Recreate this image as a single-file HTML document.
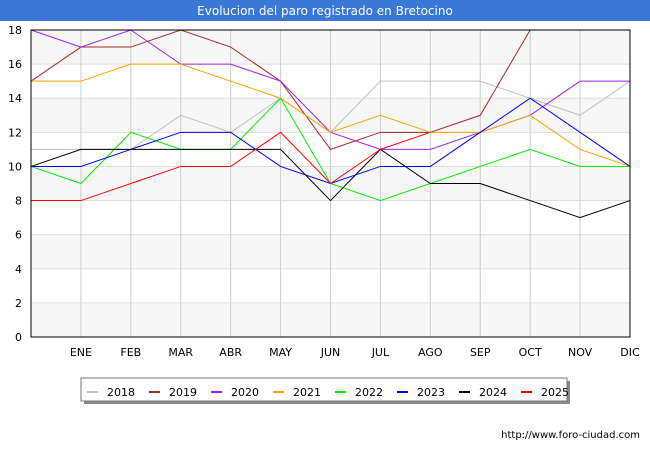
<!DOCTYPE html>
<html><head><meta charset="utf-8"><style>
body{margin:0;width:650px;height:450px;background:#fff;font-family:"DejaVu Sans","Liberation Sans",sans-serif;overflow:hidden}
</style></head><body>
<svg width="650" height="450" xmlns="http://www.w3.org/2000/svg" id="svg">
<rect x="0" y="0" width="650" height="21" fill="#3a78d8"/>
<text x="325" y="15" text-anchor="middle" fill="#fff" font-size="12" font-family="DejaVu Sans, sans-serif">Evolucion del paro registrado en Bretocino</text>
<g id="plot"></g>
<rect x="84" y="381" width="486" height="23" fill="#888"/>
<rect x="81" y="378" width="486" height="23" fill="#fff" stroke="#777"/>
<g id="legend"></g>
<text x="640" y="438" text-anchor="end" font-size="10" font-family="DejaVu Sans, sans-serif" fill="#000">http://www.foro-ciudad.com</text>
</svg>
<script>
const cats=["","ENE","FEB","MAR","ABR","MAY","JUN","JUL","AGO","SEP","OCT","NOV","DIC"];
const yTicks=[0,2,4,6,8,10,12,14,16,18];
const years=["2018","2019","2020","2021","2022","2023","2024","2025"];
const colors=["#c0c0c0","#a52a2a","#a020f0","#ffa500","#00ee00","#0000ff","#000000","#ff0000"];
const s2018=[11,11,11,13,12,14,12,15,15,15,14,13,15];
const s2019=[15,17,17,18,17,15,11,12,12,13,18,null,null];
const s2020=[18,17,18,16,16,15,12,11,11,12,13,15,15];
const s2021=[15,15,16,16,15,14,12,13,12,12,13,11,10];
const s2022=[10,9,12,11,11,14,9,8,9,10,11,10,10];
const s2023=[10,10,11,12,12,10,9,10,10,12,14,12,10];
const s2024=[10,11,11,11,11,11,8,11,9,9,8,7,8];
const s2025=[8,8,9,10,10,12,9,11,12,null,null,null,null];
const series=[s2018,s2019,s2020,s2021,s2022,s2023,s2024,s2025];
const NS="http://www.w3.org/2000/svg";
const L=31,R=630,T=30,B=337;
const x=i=>L+(R-L)*i/(cats.length-1);
const y=v=>B-(B-T)*v/18;
const plot=document.getElementById('plot');
function mk(tag,attrs,parent){const e=document.createElementNS(NS,tag);for(const k in attrs)e.setAttribute(k,attrs[k]);parent.appendChild(e);return e;}
for(let i=0;i<yTicks.length-1;i++){
  if(i%2==0){const r=mk('rect',{x:L,y:y(yTicks[i+1]),width:R-L,height:y(yTicks[i])-y(yTicks[i+1]),fill:'#f7f7f7'},plot);
  
  }
}
yTicks.forEach(v=>{
  const g=mk('line',{x1:L,x2:R,y1:y(v),y2:y(v),stroke:'#ddd'},plot);
  
  
  const t=mk('text',{x:L-9,y:y(v)+4,'text-anchor':'end','font-size':11},plot);t.textContent=v;
  
  
});
cats.forEach((c,i)=>{
  if(i>0){const g=mk('line',{x1:x(i),x2:x(i),y1:T,y2:B,stroke:'#ccc'},plot);
  
  }
  const t=mk('text',{x:x(i),y:356,'text-anchor':'middle','font-size':11},plot);t.textContent=c;
  
  
});
series.forEach((s,k)=>{
  let d='',pen=false;
  s.forEach((v,i)=>{if(v==null){pen=false;return;}d+=(pen?'L':'M')+x(i)+' '+y(v)+' ';pen=true;});
  const p=mk('path',{d:d,fill:'none',stroke:colors[k],'stroke-width':1},plot);
  
  
});
const ax=mk('path',{d:`M${L} ${T}V${B}H${R}V${T}Z`,fill:'none',stroke:'#000'},plot);


const leg=document.getElementById('legend');
years.forEach((yr,k)=>{
  const bx=87+k*62;
  const sw=mk('rect',{x:bx,y:391,width:11,height:2,fill:colors[k]},leg);
  
  
  const t=mk('text',{x:bx+20,y:396,'font-size':11},leg);t.textContent=yr;
  
  
});
</script>
</body></html>
